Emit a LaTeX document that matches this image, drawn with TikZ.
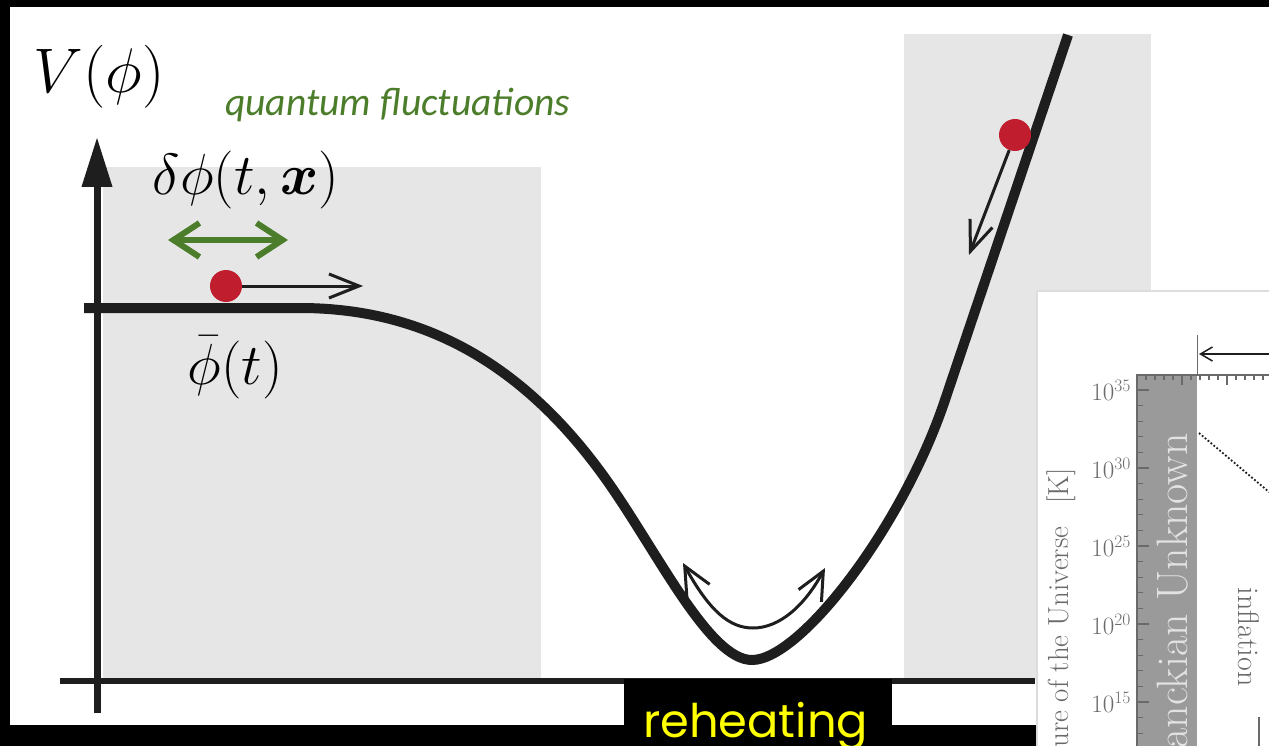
\RequirePackage{fix-cm}
\documentclass[tikz,border=0pt]{standalone}
\usepackage{amsmath,bm}
\usepackage{fontspec}
\newfontfamily\qfont{Carlito}
\newfontfamily\rfont{Poppins}
\usetikzlibrary{arrows.meta}
\definecolor{curveblack}{HTML}{1E1E1E}
\definecolor{boxgrey}{HTML}{E6E6E6}
\definecolor{dotred}{HTML}{C01D2E}
\definecolor{qgreen}{HTML}{4B7D2A}
\definecolor{bandgrey}{HTML}{9A9A9A}
\definecolor{insetline}{HTML}{DDDDDD}
\definecolor{labgrey}{HTML}{6A6A6A}
\definecolor{bandtext}{HTML}{E2E2E2}
\definecolor{reheatyellow}{HTML}{FFFF00}
\tikzset{
  potcurve/.style={line width=10pt, draw=curveblack, line cap=butt, line join=round},
  axisline/.style={line width=7pt, draw=curveblack},
  haxis/.style={line width=6pt, draw=curveblack},
  dotnode/.style={circle, fill=dotred, minimum size=32pt, inner sep=0pt},
  motion/.style={line width=3pt, draw=curveblack, -{Straight Barb[length=30pt,width=24pt]}},
  osc/.style={line width=3pt, draw=curveblack, {Straight Barb[length=28pt,width=26pt]}-{Straight Barb[length=28pt,width=26pt]}},
  fluct/.style={line width=6pt, draw=qgreen, {Straight Barb[length=26pt,width=34pt]}-{Straight Barb[length=26pt,width=34pt]}},
  mathlab/.style={inner sep=0pt, anchor=base, font=\fontsize{58}{64}\selectfont},
  ticklab/.style={inner sep=0pt, anchor=east, text=labgrey, font=\fontsize{25}{28}\selectfont},
  tickline/.style={line width=1.2pt, draw=labgrey},
}
\begin{document}
\begin{tikzpicture}[x=1pt,y=-1pt]
\useasboundingbox (0,0) rectangle (1269,746);
% background
\fill[black] (0,0) rectangle (1269,746);
\fill[white] (10,7) rectangle (1269,725);
% grey regions
\fill[boxgrey] (103,167) rectangle (541,680);
\fill[boxgrey] (904,34) rectangle (1151,680);

% axes
\coordinate (vbot) at (97,713);
\coordinate (vtop) at (97,137);
\coordinate (hleft) at (60,681);
\coordinate (hright) at (1035,681);
\draw[haxis] (hleft) -- (hright);
\draw[axisline, -{Triangle[length=50pt,width=29pt]}] (vbot) -- (vtop);

% potential curve
\draw[potcurve] (84,308) -- (300,308)
  .. controls (430,308) and (530,370) .. (610,485)
  .. controls (660,557) and (710,660) .. (752,660)
  .. controls (800,660) and (902,528) .. (945,400)
  -- (1068,35);

% labels
\node[mathlab, font=\fontsize{63}{70}\selectfont] (V) at (99,93) {$V(\phi)$};
\node[mathlab] (dphi) at (246,194.5) {$\delta\phi(t,\bm{x})$};
\node[mathlab] (phibar) at (235,384) {$\bar{\phi}(t)$};
\node[inner sep=0pt, anchor=base west, text=qgreen] (qf) at (225,116)
  {\resizebox{345pt}{!}{\qfont\itshape quantum fluctuations}};

% fluctuation arrow
\coordinate (g1) at (168,240);
\coordinate (g2) at (288,240);
\draw[fluct] (g1) -- (g2);

% left ball and arrow
\node[dotnode] (d1) at (226,286) {};
\coordinate (a1) at (363,286);
\draw[motion] (d1) -- (a1);

% right ball and arrow
\node[dotnode] (d2) at (1015,135) {};
\coordinate (a2) at (969,255);
\draw[motion] (d2) -- (a2);

% oscillation arrow
\coordinate (r1) at (683,563);
\coordinate (r2) at (825,568);
\draw[osc] (r1) .. controls (710,612) and (730,628) .. (753,628)
              .. controls (780,628) and (805,605) .. (r2);

% reheating box
\fill[black] (624,679) rectangle (892,746);
\node[inner sep=0pt, anchor=base west, text=reheatyellow] (reh) at (643,737)
  {\resizebox{225pt}{!}{\rfont reheating}};

% inset
\fill[white] (1036,290) rectangle (1269,746);
\draw[insetline, line width=1.5pt] (1036.75,746) -- (1036.75,290.75) -- (1269,290.75);
\fill[bandgrey] (1137,375) rectangle (1197,746);
\draw[tickline] (1137,746) -- (1137,375) -- (1269,375);
\foreach \i in {0,...,22} {
  \pgfmathsetmacro{\tl}{mod(\i,5)==0 ? 12 : 6}
  \draw[tickline] (1137,390+15.6*\i) -- ++(\tl,0);
}
\foreach \j in {-5,...,9} {
  \pgfmathsetmacro{\tl}{mod(\j+10,5)==0 ? 10 : 5}
  \draw[tickline] (1182+9*\j,375) -- ++(0,\tl);
}
\node[ticklab] (t35) at (1131,390) {$10^{35}$};
\node[ticklab] (t30) at (1131,468) {$10^{30}$};
\node[ticklab] (t25) at (1131,546) {$10^{25}$};
\node[ticklab] (t20) at (1131,624) {$10^{20}$};
\node[ticklab] (t15) at (1131,702) {$10^{15}$};
\node[inner sep=0pt, rotate=90, anchor=base west, text=labgrey,
      font=\fontsize{29}{32}\selectfont] (ylab) at (1068,748)
  {ure of the Universe\hspace{0.8em}[K]};
\node[inner sep=0pt, rotate=90, anchor=base east, text=bandtext,
      font=\fontsize{44}{48}\selectfont] (planck) at (1187,433)
  {anckian Unknown};
\node[inner sep=0pt, rotate=-90, anchor=base, text=labgrey,
      font=\fontsize{30}{34}\selectfont] (infl) at (1238,637)
  {inflation};
\coordinate (dt1) at (1199,433);
\coordinate (dt2) at (1269,492);
\draw[dotted, line width=1.8pt, draw=curveblack] (dt1) -- (dt2);
\coordinate (vl1) at (1197.5,335);
\coordinate (vl2) at (1197.5,375);
\draw[tickline] (vl1) -- (vl2);
\coordinate (ar1) at (1269,354);
\coordinate (ar2) at (1199,354);
\draw[line width=1.5pt, draw=curveblack, -{Straight Barb[length=12pt,width=14pt]}] (ar1) -- (ar2);
\coordinate (bm1) at (1259,717);
\coordinate (bm2) at (1259,746);
\draw[line width=1.2pt, draw=labgrey] (bm1) -- (bm2);
\end{tikzpicture}
\end{document}
